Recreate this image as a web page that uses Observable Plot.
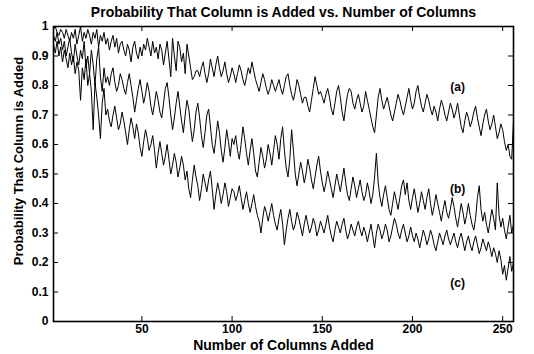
<!DOCTYPE html>
<html>
<head>
<meta charset="utf-8">
<script src="https://cdn.jsdelivr.net/npm/d3@7"></script>
<script src="https://cdn.jsdelivr.net/npm/@observablehq/plot@0.6"></script>
<style>
  html, body { margin: 0; padding: 0; background: #fff; }
  #chart svg { display: block; background: #fff; }
</style>
</head>
<body>
<div id="chart"></div>
<script>
const titleText = "Probability That Column is Added vs. Number of Columns";
const xLabelText = "Number of Columns Added";
const yLabelText = "Probability That Column is Added";
const xTickValues = [50, 100, 150, 200, 250];
const yTickValues = [0, 0.1, 0.2, 0.3, 0.4, 0.5, 0.6, 0.7, 0.8, 0.9, 1];
const yTickLabels = ["0", "0.1", "0.2", "0.3", "0.4", "0.5", "0.6", "0.7", "0.8", "0.9", "1"];
const seriesNames = ["(a)", "(b)", "(c)"];
const seriesLabelX = [225, 225, 225];
const seriesLabelY = [0.795, 0.449, 0.13];

const seriesA = [
  0.99,1.00,0.98,0.97,0.99,0.98,0.96,0.99,0.97,0.95,
  0.98,0.96,0.99,0.94,0.97,1.00,0.95,0.98,0.96,0.99,
  0.97,0.94,0.98,0.96,0.99,0.93,0.97,0.95,0.98,0.94,
  0.96,0.92,0.95,0.97,0.93,0.96,0.91,0.94,0.95,0.92,
  0.90,0.94,0.92,0.88,0.93,0.95,0.91,0.89,0.93,0.90,
  0.94,0.92,0.96,0.93,0.90,0.95,0.91,0.93,0.89,0.94,
  0.92,0.87,0.91,0.95,0.89,0.83,0.96,0.90,0.85,0.95,
  0.93,0.88,0.91,0.84,0.94,0.90,0.86,0.82,0.83,0.85,
  0.85,0.83,0.86,0.88,0.84,0.81,0.84,0.89,0.86,0.83,
  0.87,0.90,0.86,0.83,0.85,0.88,0.84,0.81,0.83,0.86,
  0.84,0.81,0.84,0.87,0.85,0.82,0.80,0.83,0.86,0.84,
  0.88,0.85,0.82,0.80,0.78,0.81,0.84,0.82,0.79,0.77,
  0.79,0.82,0.80,0.78,0.80,0.82,0.79,0.77,0.80,0.83,
  0.84,0.80,0.77,0.75,0.78,0.82,0.80,0.77,0.74,0.76,
  0.76,0.73,0.71,0.75,0.79,0.83,0.80,0.77,0.78,0.76,
  0.74,0.77,0.79,0.76,0.72,0.70,0.74,0.78,0.80,0.76,
  0.71,0.68,0.73,0.77,0.79,0.78,0.74,0.72,0.75,0.77,
  0.74,0.71,0.73,0.78,0.75,0.72,0.69,0.66,0.64,0.70,
  0.76,0.79,0.75,0.72,0.74,0.76,0.73,0.70,0.68,0.71,
  0.74,0.77,0.75,0.72,0.70,0.73,0.76,0.79,0.75,0.72,
  0.74,0.78,0.80,0.76,0.73,0.71,0.74,0.77,0.75,0.72,
  0.70,0.73,0.71,0.68,0.72,0.75,0.73,0.70,0.68,0.71,
  0.74,0.72,0.69,0.71,0.74,0.70,0.66,0.64,0.68,0.71,
  0.69,0.66,0.68,0.71,0.73,0.69,0.66,0.63,0.67,0.70,
  0.72,0.68,0.65,0.67,0.70,0.66,0.62,0.64,0.67,0.65,
  0.61,0.58,0.60,0.56,0.55,0.68
];

const seriesB = [
  0.97,0.95,0.98,0.94,0.96,0.92,0.95,0.90,0.93,0.96,
  0.91,0.88,0.94,0.90,0.87,0.92,0.89,0.95,0.86,0.90,
  0.84,0.92,0.87,0.80,0.89,0.93,0.83,0.78,0.86,0.81,
  0.83,0.80,0.84,0.86,0.81,0.78,0.80,0.84,0.82,0.79,
  0.77,0.81,0.84,0.80,0.76,0.71,0.75,0.79,0.82,0.78,
  0.74,0.77,0.81,0.78,0.73,0.70,0.74,0.78,0.75,0.71,
  0.69,0.74,0.79,0.81,0.76,0.70,0.65,0.69,0.74,0.78,
  0.73,0.68,0.64,0.70,0.75,0.72,0.66,0.61,0.65,0.71,
  0.74,0.69,0.63,0.59,0.64,0.70,0.72,0.66,0.60,0.57,
  0.62,0.68,0.64,0.58,0.54,0.59,0.65,0.61,0.56,0.62,
  0.60,0.63,0.58,0.55,0.60,0.66,0.62,0.57,0.53,0.58,
  0.62,0.57,0.51,0.49,0.54,0.59,0.56,0.52,0.55,0.60,
  0.57,0.53,0.58,0.63,0.60,0.55,0.62,0.66,0.58,0.52,
  0.49,0.55,0.65,0.58,0.50,0.46,0.50,0.54,0.51,0.47,
  0.50,0.55,0.52,0.48,0.45,0.49,0.53,0.56,0.51,0.47,
  0.44,0.47,0.51,0.48,0.45,0.42,0.46,0.50,0.47,0.44,
  0.48,0.52,0.47,0.43,0.41,0.45,0.49,0.46,0.42,0.45,
  0.48,0.44,0.41,0.43,0.47,0.44,0.40,0.43,0.49,0.57,
  0.47,0.42,0.39,0.43,0.46,0.42,0.38,0.36,0.40,0.44,
  0.41,0.38,0.42,0.46,0.48,0.43,0.47,0.41,0.38,0.42,
  0.45,0.41,0.37,0.40,0.44,0.41,0.38,0.42,0.45,0.40,
  0.36,0.39,0.43,0.40,0.37,0.34,0.38,0.41,0.37,0.35,
  0.38,0.42,0.39,0.35,0.32,0.36,0.40,0.37,0.33,0.36,
  0.40,0.36,0.33,0.31,0.35,0.42,0.46,0.38,0.34,0.37,
  0.33,0.30,0.34,0.38,0.35,0.31,0.47,0.36,0.32,0.35,
  0.31,0.28,0.32,0.36,0.30,0.33
];

const seriesC = [
  0.94,0.91,0.95,0.90,0.93,0.88,0.92,0.89,0.86,0.91,
  0.87,0.90,0.84,0.88,0.85,0.75,0.86,0.82,0.89,0.80,
  0.84,0.78,0.65,0.81,0.76,0.70,0.62,0.74,0.79,0.70,
  0.72,0.68,0.66,0.70,0.73,0.69,0.65,0.67,0.71,0.68,
  0.64,0.60,0.65,0.69,0.66,0.62,0.67,0.64,0.59,0.56,
  0.61,0.65,0.62,0.58,0.60,0.63,0.58,0.52,0.57,0.61,
  0.57,0.53,0.56,0.60,0.55,0.50,0.53,0.57,0.54,0.49,
  0.52,0.56,0.53,0.48,0.51,0.45,0.42,0.48,0.53,0.49,
  0.46,0.41,0.45,0.50,0.47,0.44,0.48,0.51,0.45,0.38,
  0.43,0.47,0.44,0.40,0.43,0.47,0.44,0.39,0.42,0.45,
  0.44,0.41,0.43,0.46,0.42,0.38,0.41,0.44,0.40,0.37,
  0.40,0.43,0.39,0.36,0.34,0.30,0.35,0.39,0.37,0.34,
  0.37,0.40,0.36,0.33,0.31,0.35,0.38,0.33,0.26,0.31,
  0.35,0.38,0.34,0.31,0.33,0.37,0.35,0.32,0.29,0.33,
  0.36,0.33,0.30,0.32,0.35,0.33,0.29,0.31,0.34,0.32,
  0.30,0.33,0.36,0.32,0.29,0.27,0.31,0.34,0.32,0.30,
  0.33,0.35,0.31,0.28,0.30,0.33,0.31,0.29,0.32,0.34,
  0.31,0.29,0.32,0.30,0.27,0.30,0.33,0.29,0.25,0.30,
  0.33,0.31,0.28,0.30,0.33,0.31,0.27,0.29,0.32,0.35,
  0.33,0.30,0.28,0.31,0.33,0.30,0.27,0.29,0.32,0.29,
  0.27,0.30,0.28,0.25,0.28,0.31,0.29,0.26,0.28,0.31,
  0.29,0.26,0.24,0.27,0.30,0.28,0.26,0.29,0.31,0.28,
  0.26,0.28,0.30,0.27,0.25,0.28,0.30,0.27,0.24,0.27,
  0.29,0.26,0.24,0.27,0.29,0.26,0.23,0.25,0.28,0.26,
  0.24,0.27,0.25,0.22,0.25,0.23,0.20,0.24,0.21,0.16,
  0.19,0.14,0.18,0.22,0.17,0.20
];

const allSeries = [seriesA, seriesB, seriesC];
const lineData = allSeries.flatMap((vals, si) =>
  vals.map((v, i) => ({x: i + 1, y: v, s: seriesNames[si]})));
const labelData = seriesNames.map((t, i) => ({t, x: seriesLabelX[i], y: seriesLabelY[i]}));

const xMin = 1, xMax = 256;
const tickLenX = 5 / 1.8;
const tickLenY = 5 / 295;

const chart = Plot.plot({
  width: 534,
  height: 354,
  marginTop: 26,
  marginBottom: 33,
  marginLeft: 53,
  marginRight: 21,
  style: {fontFamily: "'Liberation Sans', Arial, Helvetica, sans-serif", fontSize: "12px", background: "#fff", color: "#000"},
  x: {domain: [xMin, xMax]},
  y: {domain: [0, 1]},
  marks: [
    Plot.ruleX(xTickValues, {x: d => d, y1: 0, y2: tickLenY, stroke: "black", strokeWidth: 1}),
    Plot.ruleX(xTickValues, {x: d => d, y1: 1 - tickLenY, y2: 1, stroke: "black", strokeWidth: 1}),
    Plot.ruleY(yTickValues, {y: d => d, x1: xMin, x2: xMin + tickLenX, stroke: "black", strokeWidth: 1}),
    Plot.ruleY(yTickValues, {y: d => d, x1: xMax - tickLenX, x2: xMax, stroke: "black", strokeWidth: 1}),
    Plot.line(lineData, {x: "x", y: "y", z: "s", stroke: "black", strokeWidth: 1}),
    Plot.frame({stroke: "black", strokeWidth: 1.6}),
    Plot.axisX(xTickValues, {tickSize: 0, tickPadding: 3, label: null, fontWeight: "bold", fontSize: 12}),
    Plot.axisY(yTickValues, {tickSize: 0, tickPadding: 5, label: null, tickFormat: (d, i) => yTickLabels[i], fontWeight: "bold", fontSize: 12}),
    Plot.text(labelData, {x: "x", y: "y", text: "t", fontWeight: "bold", fontSize: 12}),
    Plot.text([titleText], {frameAnchor: "top", lineAnchor: "middle", dy: -14, text: d => d, fontWeight: "bold", fontSize: 14}),
    Plot.text([xLabelText], {frameAnchor: "bottom", lineAnchor: "middle", dy: 24, text: d => d, fontWeight: "bold", fontSize: 14}),
    Plot.text([yLabelText], {frameAnchor: "left", textAnchor: "middle", lineAnchor: "middle", dx: -35, dy: -13, rotate: -90, text: d => d, fontWeight: "bold", fontSize: 13})
  ]
});
document.getElementById("chart").appendChild(chart);
</script>
</body>
</html>
